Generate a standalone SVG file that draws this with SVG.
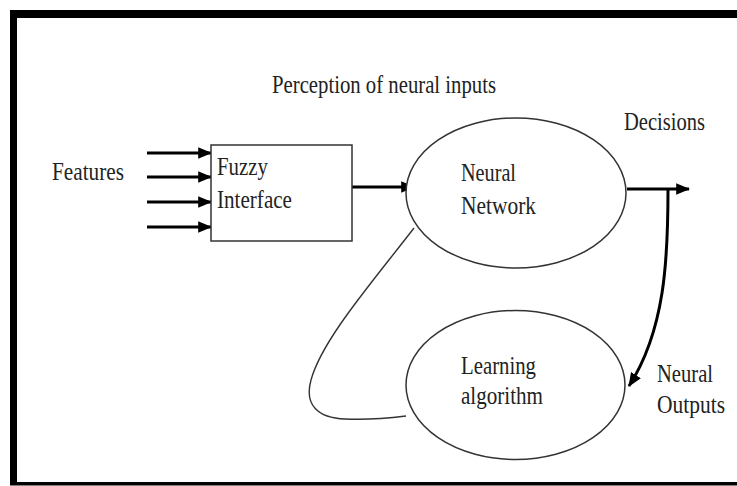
<svg xmlns="http://www.w3.org/2000/svg" width="737" height="486" viewBox="0 0 737 486">
<defs>
<style>
text{font-family:"Liberation Serif","Times New Roman",serif;font-size:25.5px;fill:#222;}
.thin{fill:none;stroke:#333;stroke-width:1.4;}
.thick{fill:none;stroke:#000;stroke-width:3;}
.node{fill:#fff;stroke:#333;stroke-width:1.5;}
</style>
<marker id="ah" markerUnits="userSpaceOnUse" markerWidth="14" markerHeight="14" viewBox="0 0 12 12" refX="11" refY="6" orient="auto">
<path d="M0,1 L12,6 L0,11 Z" fill="#000"/>
</marker>
</defs>
<rect width="737" height="486" fill="#fff"/>
<g id="frame" fill="#000">
<rect x="10" y="10" width="727" height="8"/>
<rect x="10" y="10" width="7" height="475"/>
<rect x="10" y="482" width="727" height="3.5"/>
</g>
<text x="272" y="93" textLength="224" lengthAdjust="spacingAndGlyphs">Perception of neural inputs</text>
<text x="52" y="180" textLength="72" lengthAdjust="spacingAndGlyphs">Features</text>
<text x="624" y="130" textLength="81" lengthAdjust="spacingAndGlyphs">Decisions</text>
<text x="657" y="382" textLength="56" lengthAdjust="spacingAndGlyphs">Neural</text>
<text x="657" y="413" textLength="68" lengthAdjust="spacingAndGlyphs">Outputs</text>
<g id="connectors">
<line class="thick" x1="147" y1="153" x2="211" y2="153" marker-end="url(#ah)"/>
<line class="thick" x1="147" y1="177" x2="211" y2="177" marker-end="url(#ah)"/>
<line class="thick" x1="147" y1="202" x2="211" y2="202" marker-end="url(#ah)"/>
<line class="thick" x1="147" y1="227" x2="211" y2="227" marker-end="url(#ah)"/>
<line class="thick" x1="352" y1="187" x2="414" y2="187" marker-end="url(#ah)"/>
<line class="thick" x1="627" y1="189" x2="689" y2="189" marker-end="url(#ah)"/>
<path class="thick" d="M668,189 C668,260 665,330 629,386" stroke-width="2.5" marker-end="url(#ah)"/>
<path class="thin" d="M414,228 C370,285 322,340 311,380 C304,405 318,418 345,419 C365,420 390,418 406,416"/>
</g>
<g id="fuzzy">
<rect class="node" x="211" y="145" width="141" height="96"/>
<text x="217" y="175" textLength="51" lengthAdjust="spacingAndGlyphs">Fuzzy</text>
<text x="217" y="208" textLength="75" lengthAdjust="spacingAndGlyphs">Interface</text>
</g>
<g id="neural-network">
<ellipse class="node" cx="516" cy="193" rx="110" ry="75"/>
<text x="461" y="181" textLength="55" lengthAdjust="spacingAndGlyphs">Neural</text>
<text x="461" y="214" textLength="75" lengthAdjust="spacingAndGlyphs">Network</text>
</g>
<g id="learning">
<ellipse class="node" cx="515.5" cy="385" rx="109.5" ry="74.5"/>
<text x="461" y="374" textLength="75" lengthAdjust="spacingAndGlyphs">Learning</text>
<text x="461" y="404" textLength="82" lengthAdjust="spacingAndGlyphs">algorithm</text>
</g>
</svg>
